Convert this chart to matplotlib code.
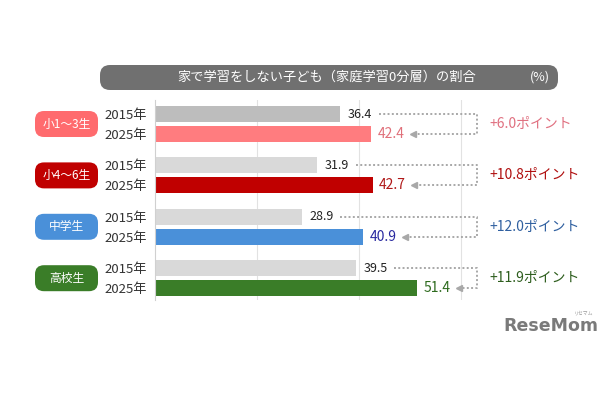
import numpy as np
import matplotlib
matplotlib.use('Agg')
import matplotlib.pyplot as plt
from matplotlib.patches import FancyBboxPatch

plt.rcParams['font.family'] = ['Noto Sans CJK JP', 'DejaVu Sans']

# データ
groups = ['小1～3生', '小4～6生', '中学生', '高校生']
years = ['2015年', '2025年']
v2015 = [36.4, 31.9, 28.9, 39.5]
v2025 = [42.4, 42.7, 40.9, 51.4]
title = '家で学習をしない子ども（家庭学習0分層）の割合'

pill_colors = ['#ff6b6e', '#c00000', '#4a90d9', '#3a7d28']
c2015 = ['#bdbdbd', '#d9d9d9', '#d9d9d9', '#d9d9d9']
c2025 = ['#ff7c7f', '#c00000', '#4a90d9', '#3a7d28']
val_colors = ['#e0707a', '#b01818', '#2a2aa0', '#2e6b1e']
diff_colors = ['#e07080', '#b01010', '#3060a0', '#2e5e1e']

fig = plt.figure(figsize=(6.1, 4.0), dpi=100)

# 背景用（ピクセル座標）
bg = fig.add_axes([0, 0, 1, 1], zorder=0)
bg.set_xlim(0, 610)
bg.set_ylim(400, 0)
bg.axis('off')
bg.add_patch(FancyBboxPatch((100, 65), 458, 25, boxstyle='round,pad=0,rounding_size=10',
                            fc='#707070', ec='none'))
bg.text(327, 77.5, title, color='white', fontsize=9.5, ha='center', va='center')
bg.text(540, 77.5, '(%)', color='white', fontsize=9, ha='center', va='center')
bg.text(551, 326, 'ReseMom', color='#7a7a7a', fontsize=12.5, fontweight='bold',
        ha='center', va='center', family='DejaVu Sans')
bg.text(584, 313, 'リセマム', color='#9a9a9a', fontsize=3.5, ha='center', va='center')

# メインの棒グラフ
ax = fig.add_axes([155 / 610, 0.25, 326 / 610, 0.5], zorder=1)
ax.patch.set_alpha(0)
base = np.arange(len(groups)) * 2.57
y15 = base + 0.7
y25 = base + 1.7
ax.barh(y15, v2015, height=0.8, color=c2015, zorder=2)
ax.barh(y25, v2025, height=0.8, color=c2025, zorder=2)
ax.set_xlim(0, 64)
ax.set_ylim(10, 0)
for g in [20, 40, 60]:
    ax.axvline(g, color='#e2e2e2', lw=0.8, zorder=1)
for s in ['top', 'right', 'bottom']:
    ax.spines[s].set_visible(False)
ax.spines['left'].set_color('#d0d0d0')
ax.set_xticks([])
ax.set_yticks(list(y15) + list(y25))
ax.set_yticklabels([years[0]] * 4 + [years[1]] * 4, fontsize=9.5, color='#333333')
ax.tick_params(axis='y', length=0, pad=6)

xr = 63.3
for i in range(len(groups)):
    ax.text(v2015[i] + 1.5, y15[i], f'{v2015[i]:.1f}', fontsize=9, color='#222222',
            va='center', ha='left')
    ax.text(v2025[i] + 1.3, y25[i], f'{v2025[i]:.1f}', fontsize=10, color=val_colors[i],
            va='center', ha='left')
    ax.plot([v2015[i] + 7.5, xr, xr, v2025[i] + 8.5], [y15[i], y15[i], y25[i], y25[i]],
            ls=(0, (1, 1.2)), color='#a8a8a8', lw=1.4, clip_on=False)
    ax.plot(v2025[i] + 8.2, y25[i], marker='<', ms=5, color='#a8a8a8', clip_on=False)
    d = v2025[i] - v2015[i]
    ax.text(65.6, (y15[i] + y25[i]) / 2, f'+{d:.1f}ポイント', fontsize=10,
            color=diff_colors[i], va='center', ha='left', clip_on=False)

# カテゴリのラベル
lab = fig.add_axes([0, 0.25, 155 / 610, 0.5], zorder=1)
lab.set_xlim(0, 155)
lab.set_ylim(10, 0)
lab.axis('off')
for i, g in enumerate(groups):
    yc = (y15[i] + y25[i]) / 2
    lab.add_patch(FancyBboxPatch((35, yc - 0.65), 63, 1.3,
                                 boxstyle='round,pad=0,rounding_size=9',
                                 mutation_aspect=1 / 20, fc=pill_colors[i], ec='none'))
    lab.text(66.5, yc, g, color='white', fontsize=8.5, ha='center', va='center')

fig.savefig('out.png', dpi=100)
